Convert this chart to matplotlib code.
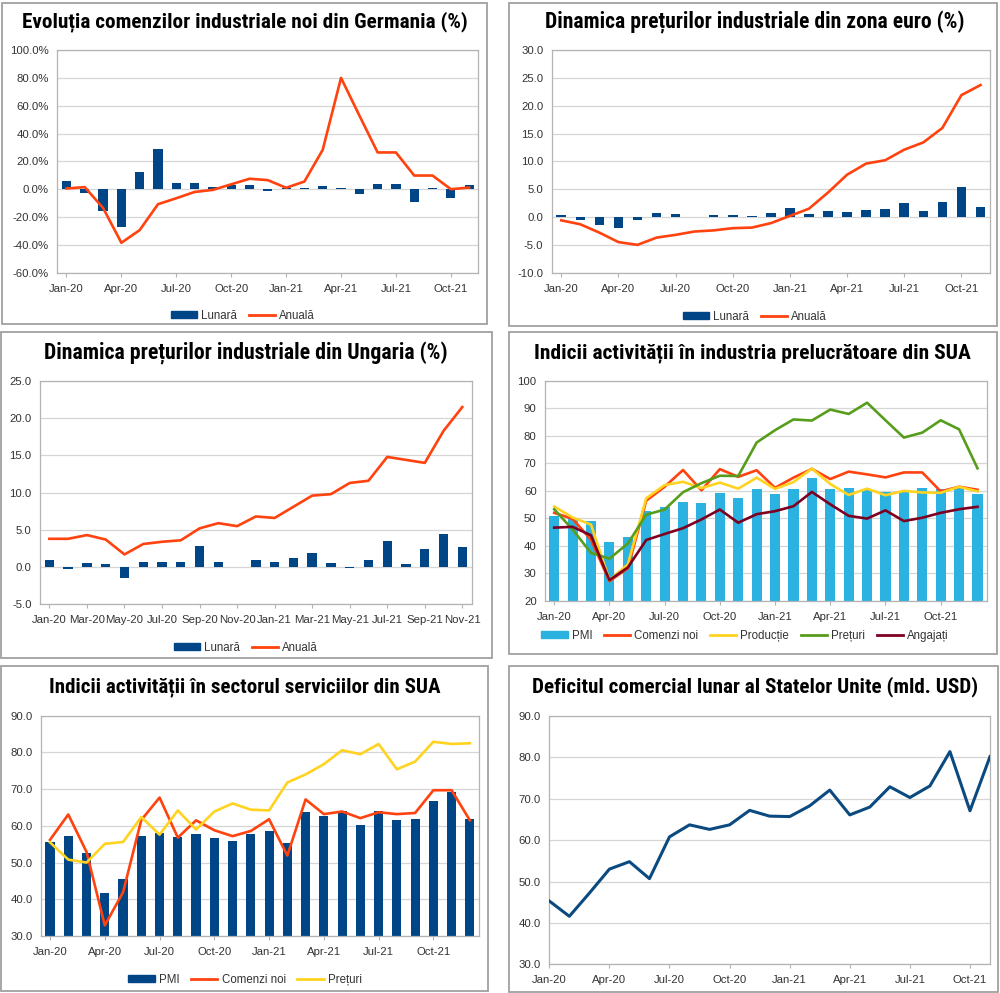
import matplotlib
matplotlib.use("Agg")
import matplotlib.pyplot as plt
import matplotlib.font_manager as fm
from matplotlib.patches import Patch, Rectangle
from matplotlib.lines import Line2D
from matplotlib.ticker import FuncFormatter
import numpy as np

# ---------------- DATA ----------------
months = ["Jan-20", "Feb-20", "Mar-20", "Apr-20", "May-20", "Jun-20", "Jul-20", "Aug-20",
          "Sep-20", "Oct-20", "Nov-20", "Dec-20", "Jan-21", "Feb-21", "Mar-21", "Apr-21",
          "May-21", "Jun-21", "Jul-21", "Aug-21", "Sep-21", "Oct-21", "Nov-21", "Dec-21"]

# Germany new industrial orders (%)
de_lunara = [6.0, -2.7, -15.4, -27.5, 12.3, 28.7, 4.8, 4.8, 1.7, 3.1, 2.7, -1.4,
             0.5, 1.0, 2.4, 1.0, -3.6, 3.8, 3.8, -9.1, 1.2, -6.2, 2.9]
de_anuala = [0.5, 1.5, -13.5, -38.5, -29.4, -10.8, -6.5, -2.0, -0.5, 3.5, 7.5, 6.5,
             1.0, 5.5, 28.3, 80.0, 53.0, 26.4, 26.4, 9.8, 9.8, 0.0, 1.2]

# Euro area industrial prices (%)
ez_lunara = [0.3, -0.6, -1.4, -2.0, -0.5, 0.7, 0.6, 0.05, 0.3, 0.3, 0.2, 0.8,
             1.6, 0.5, 1.1, 0.9, 1.3, 1.4, 2.5, 1.1, 2.7, 5.4, 1.8]
ez_anuala = [-0.6, -1.3, -2.8, -4.5, -5.0, -3.7, -3.2, -2.6, -2.4, -2.0, -1.9, -1.1,
             0.2, 1.5, 4.4, 7.6, 9.6, 10.2, 12.1, 13.4, 16.0, 21.9, 23.7]

# Hungary industrial prices (%)
hu_lunara = [0.9, -0.2, 0.5, 0.4, -1.4, 0.7, 0.7, 0.7, 2.8, 0.7, 0.0, 1.0,
             0.7, 1.2, 1.9, 0.6, -0.1, 1.0, 3.5, 0.4, 2.4, 4.5, 2.7]
hu_anuala = [3.8, 3.8, 4.3, 3.7, 1.7, 3.1, 3.4, 3.6, 5.2, 5.9, 5.5, 6.8,
             6.6, 8.1, 9.6, 9.8, 11.3, 11.6, 14.8, 14.4, 14.0, 18.3, 21.5]

# US manufacturing (ISM)
mf_pmi = [50.9, 50.1, 49.1, 41.5, 43.1, 52.6, 54.2, 56.0, 55.4, 59.3, 57.5, 60.7,
          58.7, 60.8, 64.7, 60.7, 61.2, 60.6, 59.5, 59.9, 61.1, 60.8, 61.1, 58.7]
mf_comenzi = [52.0, 49.8, 42.2, 27.1, 31.8, 56.4, 61.5, 67.6, 60.2, 67.9, 65.1, 67.5,
              61.1, 64.8, 68.0, 64.3, 67.0, 66.0, 64.9, 66.7, 66.7, 59.8, 61.5, 60.4]
mf_productie = [54.3, 50.3, 47.7, 27.5, 33.2, 57.3, 62.1, 63.3, 61.0, 63.0, 60.8, 64.8,
                60.7, 63.2, 68.1, 62.5, 58.5, 60.8, 58.4, 60.0, 59.4, 59.3, 61.5, 59.8]
mf_preturi = [53.3, 45.9, 37.4, 35.3, 40.8, 51.3, 53.2, 59.5, 62.8, 65.5, 65.4, 77.6,
              82.1, 86.0, 85.6, 89.6, 88.0, 92.1, 85.7, 79.4, 81.2, 85.7, 82.4, 68.2]
mf_angajati = [46.6, 46.9, 43.8, 27.5, 32.1, 42.1, 44.3, 46.4, 49.6, 53.2, 48.4, 51.5,
               52.6, 54.4, 59.6, 55.1, 50.9, 49.9, 52.9, 49.0, 50.2, 52.0, 53.3, 54.2]

# US services (ISM)
sv_pmi = [55.5, 57.3, 52.5, 41.8, 45.4, 57.1, 58.1, 56.9, 57.8, 56.6, 55.9, 57.7,
          58.7, 55.3, 63.7, 62.7, 64.0, 60.1, 64.1, 61.7, 61.9, 66.7, 69.1, 62.0]
sv_comenzi = [56.2, 63.1, 52.9, 32.9, 41.9, 61.6, 67.7, 56.8, 61.5, 58.8, 57.2, 58.6,
              61.8, 51.9, 67.2, 63.2, 63.9, 62.1, 63.7, 63.2, 63.5, 69.7, 69.7, 61.5]
sv_preturi = [55.5, 50.8, 50.0, 55.1, 55.6, 62.4, 57.6, 64.2, 59.0, 63.9, 66.1, 64.4,
              64.2, 71.8, 74.0, 76.8, 80.6, 79.5, 82.3, 75.4, 77.5, 82.9, 82.3, 82.5]

# US monthly trade deficit (bn USD)
us_deficit = [45.3, 41.6, 47.2, 53.0, 54.8, 50.7, 60.8, 63.7, 62.6, 63.7, 67.2, 65.8,
              65.7, 68.3, 72.1, 66.1, 68.0, 72.9, 70.3, 73.1, 81.4, 67.1, 80.2]

titles = ["Evoluția comenzilor industriale noi din Germania (%)",
          "Dinamica prețurilor industriale din zona euro (%)",
          "Dinamica prețurilor industriale din Ungaria (%)",
          "Indicii activității în industria prelucrătoare din SUA",
          "Indicii activității în sectorul serviciilor din SUA",
          "Deficitul comercial lunar al Statelor Unite (mld. USD)"]

# ---------------- STYLE ----------------
DBLUE = "#004586"
ORANGE = "#FF420E"
YELLOW = "#FFD320"
GREEN = "#579D1C"
MAROON = "#7E0021"
CYAN = "#2CB2E0"
GRID = "#D6D6D6"
SPINE = "#B3B3B3"
TXT = "#333333"

names = {f.name for f in fm.fontManager.ttflist}
BODY = "Liberation Sans" if "Liberation Sans" in names else "DejaVu Sans"
title_font = None
for cand in ["Liberation Sans Narrow", "Roboto Condensed", "Open Sans Condensed", "DejaVu Sans Condensed"]:
    if cand in names:
        title_font = fm.FontProperties(family=cand, weight="bold")
        break
if title_font is None:
    title_font = fm.FontProperties(family=BODY, weight="bold")

plt.rcParams["font.family"] = [BODY, "DejaVu Sans"]

W, H = 1000, 993
fig = plt.figure(figsize=(W / 100, H / 100), dpi=100)


def rect(l, t, r, b):
    return [l / W, 1 - b / H, (r - l) / W, (b - t) / H]


def style(ax, ylim, step, fmt, xt_every, n, pad_lr=True):
    ax.set_ylim(*ylim)
    ax.set_yticks(np.arange(ylim[0], ylim[1] + step / 2, step))
    ax.yaxis.set_major_formatter(FuncFormatter(fmt))
    if pad_lr:
        ax.set_xlim(-0.5, n - 0.5)
    else:
        ax.set_xlim(0, n - 1)
    ticks = list(range(0, n, xt_every))
    ax.set_xticks(ticks)
    ax.set_xticklabels([months[i] for i in ticks])
    ax.grid(axis="y", color=GRID, lw=0.9)
    ax.set_axisbelow(True)
    for s in ax.spines.values():
        s.set_color(SPINE)
        s.set_linewidth(0.9)
    ax.tick_params(axis="both", colors=SPINE, labelcolor=TXT, labelsize=8.2, length=3, width=0.8)
    ax.tick_params(axis="x", pad=5)
    ax.tick_params(axis="y", pad=6, length=0)


def border(l, t, r, b):
    fig.patches.append(Rectangle((l / W, 1 - b / H), (r - l) / W, (b - t) / H,
                                 transform=fig.transFigure, fill=False,
                                 edgecolor="#A0A0A0", lw=1.3))


def legend(handles, labels, x, y):
    fig.legend(handles, labels, loc="center", bbox_to_anchor=(x / W, 1 - y / H),
               ncol=len(handles), frameon=False, fontsize=8.3, handlelength=2.3,
               handleheight=0.55, handletextpad=0.35, columnspacing=1.0,
               labelcolor=TXT)


pct = lambda v, p: f"{v:.1f}%"
one = lambda v, p: f"{v:.1f}"
intf = lambda v, p: f"{v:.0f}"

title_specs = []

# Panel 1
border(2, 3, 487, 324)
ax = fig.add_axes(rect(57.3, 50, 478.3, 272.7))
x = list(range(23))
ax.bar(x, de_lunara, width=0.5, color=DBLUE, zorder=2)
ax.plot(x, de_anuala, color=ORANGE, lw=1.9, zorder=3)
style(ax, (-60, 100), 20, pct, 3, 23)
legend([Patch(color=DBLUE), Line2D([], [], color=ORANGE, lw=2)], ["Lunară", "Anuală"], 243, 316)
title_specs.append((titles[0], 244.5, 22, 445))

# Panel 2
border(509, 3, 997, 326)
ax = fig.add_axes(rect(551.7, 50, 990, 272.7))
ax.bar(x, ez_lunara, width=0.5, color=DBLUE, zorder=2)
ax.plot(x, ez_anuala, color=ORANGE, lw=1.9, zorder=3)
style(ax, (-10, 30), 5, one, 3, 23)
legend([Patch(color=DBLUE), Line2D([], [], color=ORANGE, lw=2)], ["Lunară", "Anuală"], 755, 317)
title_specs.append((titles[1], 754.5, 22, 419))

# Panel 3
border(1, 332, 492, 658)
ax = fig.add_axes(rect(40, 381, 471.7, 604.3))
ax.bar(x, hu_lunara, width=0.5, color=DBLUE, zorder=2)
ax.plot(x, hu_anuala, color=ORANGE, lw=1.9, zorder=3)
style(ax, (-5, 25), 5, one, 2, 23)
legend([Patch(color=DBLUE), Line2D([], [], color=ORANGE, lw=2)], ["Lunară", "Anuală"], 246, 648)
title_specs.append((titles[2], 246, 353, 402))

# Panel 4
border(509, 332, 997, 654)
ax = fig.add_axes(rect(545, 381, 986.7, 600.7))
x24 = list(range(24))
ax.bar(x24, mf_pmi, width=0.55, color=CYAN, zorder=2)
ax.plot(x24, mf_comenzi, color=ORANGE, lw=1.9, zorder=3)
ax.plot(x24, mf_productie, color=YELLOW, lw=1.9, zorder=3)
ax.plot(x24, mf_preturi, color=GREEN, lw=1.9, zorder=3)
ax.plot(x24, mf_angajati, color=MAROON, lw=1.9, zorder=4)
style(ax, (20, 100), 10, intf, 3, 24)
legend([Patch(color=CYAN), Line2D([], [], color=ORANGE, lw=2), Line2D([], [], color=YELLOW, lw=2),
        Line2D([], [], color=GREEN, lw=2), Line2D([], [], color=MAROON, lw=2)],
       ["PMI", "Comenzi noi", "Producție", "Prețuri", "Angajați"], 745, 636)
title_specs.append((titles[3], 752.5, 353, 435))

# Panel 5
border(1, 666, 488, 991)
ax = fig.add_axes(rect(40.9, 715.7, 479, 936))
ax.bar(x24, sv_pmi, width=0.5, color=DBLUE, zorder=2)
ax.plot(x24, sv_comenzi, color=ORANGE, lw=1.9, zorder=3)
ax.plot(x24, sv_preturi, color=YELLOW, lw=1.9, zorder=3)
style(ax, (30, 90), 10, one, 3, 24)
legend([Patch(color=DBLUE), Line2D([], [], color=ORANGE, lw=2), Line2D([], [], color=YELLOW, lw=2)],
       ["PMI", "Comenzi noi", "Prețuri"], 245, 980)
title_specs.append((titles[4], 244.5, 687, 391))

# Panel 6
border(509, 666, 998, 992)
ax = fig.add_axes(rect(549.3, 716, 990, 964.3))
ax.plot(x, us_deficit, color="#0B4A80", lw=2.2, zorder=3)
style(ax, (30, 90), 10, one, 3, 23, pad_lr=False)
title_specs.append((titles[5], 755, 687, 447))

# Titles fitted to measured widths
renderer = fig.canvas.get_renderer()
for txt, cx, cy, tw in title_specs:
    t = fig.text(cx / W, 1 - cy / H, txt, ha="center", va="center",
                 fontproperties=title_font, fontsize=15, color="black")
    w = t.get_window_extent(renderer).width
    t.set_fontsize(15 * tw / w)

fig.savefig("out.png", dpi=100)
